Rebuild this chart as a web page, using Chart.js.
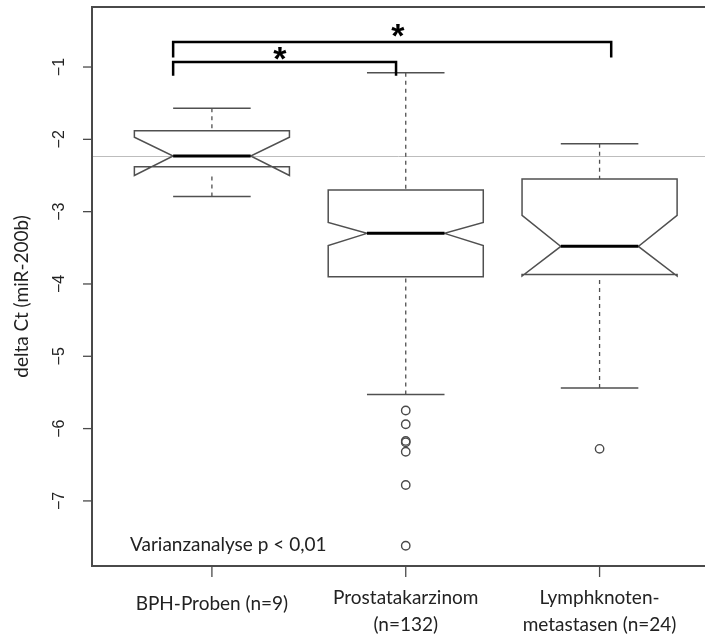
<!DOCTYPE html>
<html>
<head>
<meta charset="utf-8">
<script src="https://cdn.jsdelivr.net/npm/chart.js"></script>
<style>
  html, body { margin: 0; padding: 0; background: #fff; }
  canvas { display: block; }
</style>
</head>
<body>
<canvas id="myChart" width="705" height="634"></canvas>
<script>
// group labels (multi-line where the picture wraps)
const categories = [['BPH-Proben (n=9)'], ['Prostatakarzinom', '(n=132)'], ['Lymphknoten-', 'metastasen (n=24)']];
const positions = [1, 2, 3];

// box statistics
const whiskerHigh = [-1.57, -1.08, -2.06];
const q3          = [-1.88, -2.70, -2.55];
const notchHigh   = [-1.97, -3.15, -3.05];
const median      = [-2.23, -3.30, -3.48];
const notchLow    = [-2.50, -3.47, -3.89];
const q1          = [-2.38, -3.90, -3.87];
const whiskerLow  = [-2.79, -5.53, -5.44];
const outliers    = [[], [-5.75, -5.94, -6.17, -6.19, -6.32, -6.78, -7.62], [-6.28]];

const yTicks = [-1, -2, -3, -4, -5, -6, -7];
const refLine = -2.23;

// significance brackets
const bracketFrom = [0.80, 0.80];
const bracketTo   = [1.95, 3.06];
const bracketY    = [-0.93, -0.655];
const bracketDrop = [-1.12, -0.87];
const starX       = [1.35, 1.96];
const starY       = [-0.82, -0.50];

const anovaText = 'Varianzanalyse p < 0,01';
const yTitle = 'delta Ct (miR-200b)';

const boxHalf = 0.4, capHalf = 0.2, notchHalf = 0.2;
const greyLine = '#505050';
const calibri = 'Lato, "Open Sans", sans-serif';

const outlierPts = [];
outliers.forEach((arr, i) => arr.forEach(v => outlierPts.push({ x: positions[i], y: v })));

const boxPlugin = {
  id: 'boxes',
  beforeDatasetsDraw(chart) {
    const ctx = chart.ctx, xs = chart.scales.x, ys = chart.scales.y, a = chart.chartArea;
    const X = v => xs.getPixelForValue(v), Y = v => ys.getPixelForValue(v);
    ctx.save();

    // grey reference line
    ctx.strokeStyle = '#bdbdbd';
    ctx.lineWidth = 1;
    ctx.beginPath();
    ctx.moveTo(a.left, Math.round(Y(refLine)) + 0.5);
    ctx.lineTo(705, Math.round(Y(refLine)) + 0.5);
    ctx.stroke();

    positions.forEach((p, i) => {
      // whiskers (dashed)
      ctx.strokeStyle = greyLine;
      ctx.lineWidth = 1.3;
      ctx.setLineDash([4, 4]);
      ctx.beginPath();
      ctx.moveTo(X(p), Y(whiskerHigh[i])); ctx.lineTo(X(p), Y(Math.max(q3[i], notchHigh[i])));
      ctx.moveTo(X(p), Y(whiskerLow[i])); ctx.lineTo(X(p), Y(Math.min(q1[i], notchLow[i])));
      ctx.stroke();
      ctx.setLineDash([]);
      // caps
      ctx.lineWidth = 1.5;
      ctx.beginPath();
      ctx.moveTo(X(p - capHalf), Y(whiskerHigh[i])); ctx.lineTo(X(p + capHalf), Y(whiskerHigh[i]));
      ctx.moveTo(X(p - capHalf), Y(whiskerLow[i])); ctx.lineTo(X(p + capHalf), Y(whiskerLow[i]));
      ctx.stroke();
      // notched box (R style polygon)
      const l = p - boxHalf, r = p + boxHalf, ml = p - notchHalf, mr = p + notchHalf;
      const poly = [
        [l, q1[i]], [l, notchLow[i]], [ml, median[i]], [l, notchHigh[i]], [l, q3[i]],
        [r, q3[i]], [r, notchHigh[i]], [mr, median[i]], [r, notchLow[i]], [r, q1[i]]
      ];
      ctx.beginPath();
      poly.forEach((pt, k) => k ? ctx.lineTo(X(pt[0]), Y(pt[1])) : ctx.moveTo(X(pt[0]), Y(pt[1])));
      ctx.closePath();
      ctx.fillStyle = '#fff';
      ctx.fill();
      ctx.lineJoin = 'miter';
      ctx.stroke();
      // median
      ctx.strokeStyle = '#000';
      ctx.lineWidth = 3;
      ctx.beginPath();
      ctx.moveTo(X(ml), Y(median[i])); ctx.lineTo(X(mr), Y(median[i]));
      ctx.stroke();
    });
    ctx.restore();
  },
  afterDraw(chart) {
    const ctx = chart.ctx, xs = chart.scales.x, ys = chart.scales.y, a = chart.chartArea;
    const X = v => xs.getPixelForValue(v), Y = v => ys.getPixelForValue(v);
    ctx.save();

    // frame (right side runs off the picture)
    ctx.strokeStyle = '#4a4a4a';
    ctx.lineWidth = 2;
    ctx.beginPath();
    ctx.moveTo(710, a.top); ctx.lineTo(a.left, a.top);
    ctx.lineTo(a.left, a.bottom); ctx.lineTo(710, a.bottom);
    ctx.stroke();

    // y axis ticks + rotated labels
    ctx.lineWidth = 1.3;
    ctx.fillStyle = '#222';
    ctx.font = '16px "Liberation Sans", Arial, sans-serif';
    ctx.textAlign = 'center';
    ctx.textBaseline = 'middle';
    yTicks.forEach(t => {
      const y = Y(t);
      ctx.beginPath(); ctx.moveTo(a.left - 9, y); ctx.lineTo(a.left, y); ctx.stroke();
      ctx.save();
      ctx.translate(a.left - 32, y);
      ctx.rotate(-Math.PI / 2);
      ctx.fillText(String(t).replace('-', '\u2212'), 0, 0);
      ctx.restore();
    });
    ctx.beginPath(); ctx.moveTo(a.left, Y(yTicks[0])); ctx.lineTo(a.left, Y(yTicks[yTicks.length - 1])); ctx.stroke();

    // y title
    ctx.save();
    ctx.font = '19px ' + calibri;
    ctx.translate(22, (a.top + a.bottom) / 2 + 10);
    ctx.rotate(-Math.PI / 2);
    ctx.fillText(yTitle, 0, 0);
    ctx.restore();

    // x ticks + labels
    ctx.font = '19px ' + calibri;
    ctx.textBaseline = 'alphabetic';
    positions.forEach((p, i) => {
      const x = X(p);
      ctx.beginPath(); ctx.moveTo(x, a.bottom); ctx.lineTo(x, a.bottom + 11); ctx.stroke();
      const lines = categories[i];
      if (lines.length === 1) {
        ctx.fillText(lines[0], x, 610);
      } else {
        ctx.fillText(lines[0], x, 604);
        ctx.fillText(lines[1], x, 631);
      }
    });

    // anova note
    ctx.textAlign = 'left';
    ctx.fillText(anovaText, 130, 551);

    // brackets
    ctx.strokeStyle = '#000';
    ctx.lineWidth = 2.5;
    bracketFrom.forEach((f, i) => {
      ctx.beginPath();
      ctx.moveTo(X(f), Y(bracketDrop[i]));
      ctx.lineTo(X(f), Y(bracketY[i]));
      ctx.lineTo(X(bracketTo[i]), Y(bracketY[i]));
      ctx.lineTo(X(bracketTo[i]), Y(bracketDrop[i]));
      ctx.stroke();
    });
    ctx.fillStyle = '#000';
    ctx.textAlign = 'center';
    ctx.font = 'bold 34px "Liberation Sans", Arial, sans-serif';
    starX.forEach((sx, i) => {
      ctx.fillText('*', X(sx), Y(starY[i]) + 0.57 * 34 - 3);
    });
    ctx.restore();
  }
};

const ctx = document.getElementById('myChart').getContext('2d');
new Chart(ctx, {
  type: 'scatter',
  data: {
    datasets: [{
      data: outlierPts,
      pointStyle: 'circle',
      pointRadius: 4.2,
      pointBorderWidth: 1.4,
      borderColor: '#4a4a4a',
      backgroundColor: 'rgba(0,0,0,0)'
    }]
  },
  options: {
    responsive: false,
    devicePixelRatio: 1,
    animation: false,
    layout: { padding: { left: 92, top: 7, right: 0, bottom: 68 } },
    plugins: { legend: { display: false }, tooltip: { enabled: false } },
    scales: {
      x: { type: 'linear', min: 0.3814, max: 3.515, display: false },
      y: { type: 'linear', min: -7.9, max: -0.17, display: false }
    }
  },
  plugins: [boxPlugin]
});
</script>
</body>
</html>
